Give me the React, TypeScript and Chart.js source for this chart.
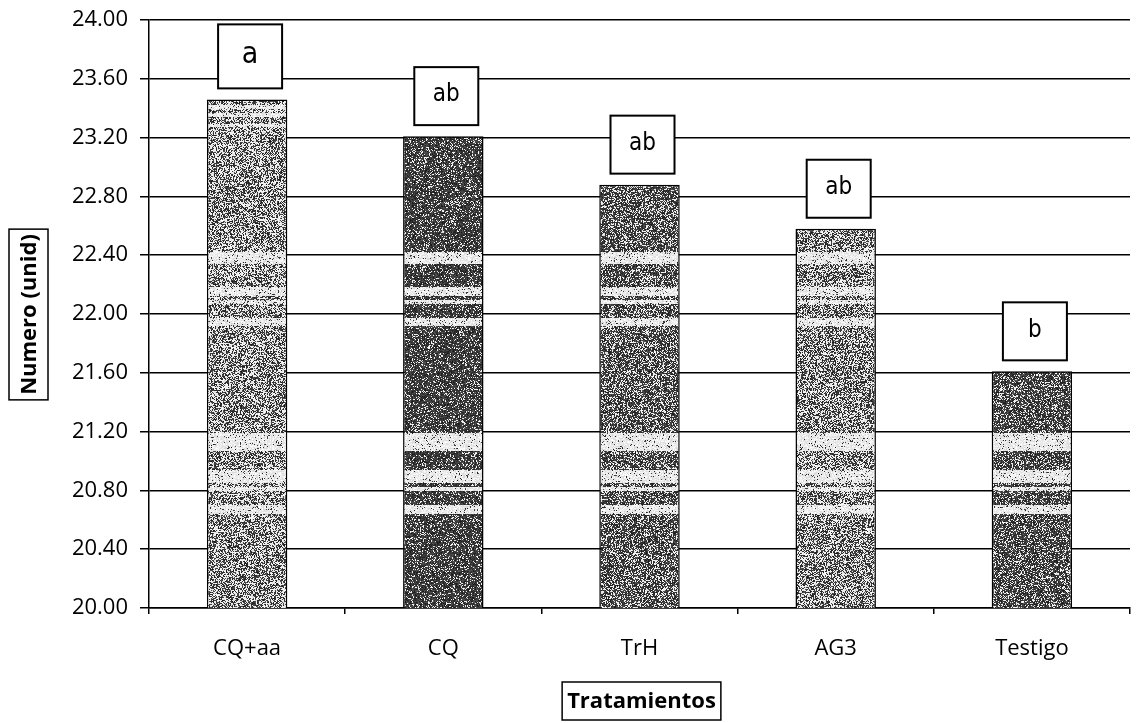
import React, { useEffect, useRef } from "react";
import { Chart, registerables } from "chart.js";

Chart.register(...registerables);

const categories = ["CQ+aa", "CQ", "TrH", "AG3", "Testigo"];
const values = [23.46, 23.21, 22.88, 22.58, 21.61];
const letters = ["a", "ab", "ab", "ab", "b"];
const yTicks = [20, 20.4, 20.8, 21.2, 21.6, 22, 22.4, 22.8, 23.2, 23.6, 24];
const darkness = [0.5, 0.82, 0.68, 0.52, 0.74];

const W = 1137;
const H = 723;
const FONT = "'Open Sans', 'DejaVu Sans', sans-serif";
const INK = "#000";

// white streaks of the scanned texture (page y ranges)
const bands: [number, number][] = [
  [105, 108], [113, 116], [124, 126], [252, 263], [287, 295], [300, 303], [318, 325],
  [433, 450], [470, 482], [487, 490], [505, 513],
];

function hash(x: number, y: number, s: number) {
  let h = Math.imul(x, 374761393) ^ Math.imul(y, 668265263) ^ Math.imul(s, 1274126177);
  h = Math.imul(h ^ (h >>> 13), 1274126177);
  h ^= h >>> 16;
  return (h >>> 0) / 4294967296;
}

function makePattern(ctx: CanvasRenderingContext2D, p: number, seed: number) {
  const c = document.createElement("canvas");
  c.width = 96;
  c.height = H;
  const g = c.getContext("2d")!;
  const img = g.createImageData(96, H);
  for (let y = 0; y < H; y++) {
    let inBand = false;
    for (const [a, b] of bands) if (y >= a && y <= b) inBand = true;
    const prob = inBand ? 0.08 : p;
    for (let x = 0; x < 96; x++) {
      const r = hash(x, y, seed);
      const v = r < prob ? 25 + Math.floor(hash(y, x, seed + 7) * 60) : 215 + Math.floor(hash(x + 3, y, seed) * 40);
      const i = (y * 96 + x) * 4;
      img.data[i] = v;
      img.data[i + 1] = v;
      img.data[i + 2] = v;
      img.data[i + 3] = 255;
    }
  }
  g.putImageData(img, 0, 0);
  return ctx.createPattern(c, "repeat")!;
}

const boxesPlugin = {
  id: "letterBoxes",
  afterDatasetsDraw(chart: any) {
    const { ctx } = chart;
    const meta = chart.getDatasetMeta(0);
    ctx.save();
    meta.data.forEach((bar: any, i: number) => {
      const bw = 64;
      const bh = i === 0 ? 64 : 58;
      const x0 = bar.x - bw / 2 + 3;
      const y1 = bar.y - 11;
      const y0 = y1 - bh;
      ctx.fillStyle = "#fff";
      ctx.fillRect(x0, y0, bw, bh);
      ctx.strokeStyle = INK;
      ctx.lineWidth = 2;
      ctx.strokeRect(x0, y0, bw, bh);
      ctx.fillStyle = INK;
      ctx.font = `${i === 0 ? 30 : 24}px 'Liberation Sans Narrow', 'DejaVu Sans Condensed', sans-serif`;
      ctx.textAlign = "center";
      ctx.textBaseline = "middle";
      ctx.fillText(letters[i], x0 + bw / 2, y0 + bh / 2 - 1);
    });
    ctx.restore();
  },
};

const titlesPlugin = {
  id: "axisTitles",
  afterDraw(chart: any) {
    const { ctx, chartArea } = chart;
    ctx.save();
    ctx.font = `bold 22px ${FONT}`;
    ctx.fillStyle = INK;
    ctx.strokeStyle = INK;
    ctx.lineWidth = 1.5;
    ctx.textAlign = "center";
    ctx.textBaseline = "middle";
    // x title
    const xt = "Tratamientos";
    const xw = ctx.measureText(xt).width + 10;
    const cx = (chartArea.left + chartArea.right) / 2 + 2;
    const cy = 701;
    ctx.strokeRect(cx - xw / 2, cy - 19, xw, 38);
    ctx.fillText(xt, cx, cy + 1);
    // y title
    const yt = "Numero (unid)";
    const yw = ctx.measureText(yt).width + 10;
    const ycx = 28.5;
    const ycy = 314.5;
    ctx.strokeRect(ycx - 19.5, ycy - yw / 2, 39, yw);
    ctx.translate(ycx, ycy);
    ctx.rotate(-Math.PI / 2);
    ctx.fillText(yt, 0, 1);
    ctx.restore();
  },
};

export default function App() {
  const ref = useRef<HTMLCanvasElement>(null);
  useEffect(() => {
    document.body.style.margin = "0";
    const canvas = ref.current!;
    const ctx = canvas.getContext("2d")!;
    const patterns = darkness.map((d, i) => makePattern(ctx, d, i + 1));
    const chart = new Chart(canvas, {
      type: "bar",
      data: {
        labels: categories,
        datasets: [
          {
            data: values,
            backgroundColor: patterns as any,
            borderColor: INK,
            borderWidth: 1.5,
            barPercentage: 0.41,
            categoryPercentage: 1,
          },
        ],
      },
      options: {
        animation: false,
        responsive: false,
        maintainAspectRatio: false,
        layout: { padding: { top: 20, right: 7, left: 0, bottom: 0 } },
        plugins: { legend: { display: false }, tooltip: { enabled: false }, title: { display: false } },
        scales: {
          y: {
            min: yTicks[0],
            max: yTicks[yTicks.length - 1],
            afterBuildTicks: (s: any) => {
              s.ticks = yTicks.map((v) => ({ value: v }));
            },
            afterFit: (s: any) => {
              s.width = 149;
              s.paddingTop = 0;
              s.paddingBottom = 0;
            },
            ticks: {
              callback: (v: any) => Number(v).toFixed(2),
              font: { family: FONT, size: 22 },
              color: INK,
              padding: 12,
            },
            grid: { color: INK, lineWidth: 1.5, tickLength: 9 },
            border: { display: true, color: INK, width: 1.5 },
          },
          x: {
            afterFit: (s: any) => {
              s.height = 115;
            },
            ticks: {
              font: { family: FONT, size: 22 },
              color: INK,
              padding: 22,
            },
            grid: { drawOnChartArea: false, color: INK, lineWidth: 1.5, tickLength: 6, offset: true },
            border: { display: true, color: INK, width: 1.5 },
          },
        },
      },
      plugins: [boxesPlugin, titlesPlugin],
    });
    return () => chart.destroy();
  }, []);
  return (
    <div style={{ width: W, height: H, background: "#fff" }}>
      <canvas ref={ref} width={W} height={H} style={{ display: "block" }} />
    </div>
  );
}
